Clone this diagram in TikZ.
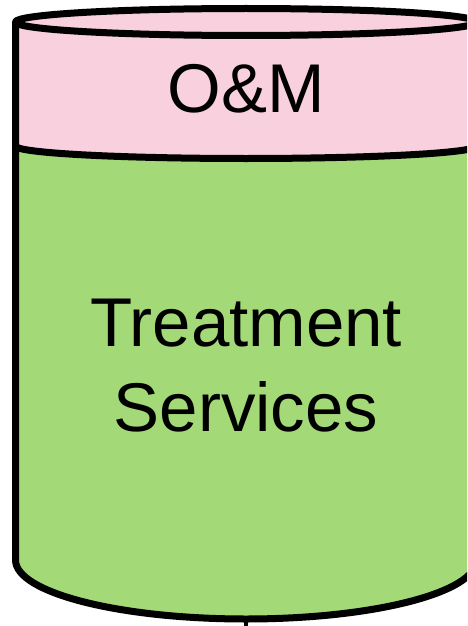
\documentclass[tikz,border=0pt]{standalone}
\usepackage{fontspec}
\setmainfont{Liberation Sans}
\definecolor{bandpink}{RGB}{249,208,221}
\definecolor{bodygreen}{RGB}{163,217,119}
\tikzset{
  outline/.style={draw=black,line width=7pt,line join=round},
  label/.style={inner sep=0pt,font=\fontsize{69}{86}\selectfont,text=black},
}
\begin{document}
\begin{tikzpicture}[x=1pt,y=-1pt]
\useasboundingbox (0,0) rectangle (467,626);
\clip (0,0) rectangle (467,626);
\fill[white] (0,0) rectangle (467,626);
% pink band
\fill[bandpink] (15.5,22) -- (15.5,146)
  arc[start angle=180,end angle=0,x radius=230.5,y radius=12.5]
  -- (476.5,22)
  arc[start angle=0,end angle=-180,x radius=230.5,y radius=13.5] -- cycle;
% green body
\fill[bodygreen] (15.5,146)
  arc[start angle=180,end angle=0,x radius=230.5,y radius=12.5]
  -- (476.5,560)
  arc[start angle=0,end angle=180,x radius=230.5,y radius=59] -- cycle;
% outline
\draw[outline] (15.5,22) -- (15.5,560)
  arc[start angle=180,end angle=0,x radius=230.5,y radius=59]
  -- (476.5,22)
  arc[start angle=0,end angle=-180,x radius=230.5,y radius=13.5] -- cycle;
\draw[outline] (15.5,22) arc[start angle=180,end angle=0,x radius=230.5,y radius=13.5];
\draw[outline] (15.5,146) arc[start angle=180,end angle=0,x radius=230.5,y radius=12.5];
% labels
\node[label,anchor=base] (om) at (246,112) {O\&M};
\node[label,anchor=base] (treat) at (246,346) {Treatment};
\node[label,anchor=base] (serv) at (246,431) {Services};
% connector stub
\coordinate (cylbottom) at (246,619);
\coordinate (below) at (246,660);
\draw[line width=4pt] (cylbottom) -- (below);
\end{tikzpicture}
\end{document}
